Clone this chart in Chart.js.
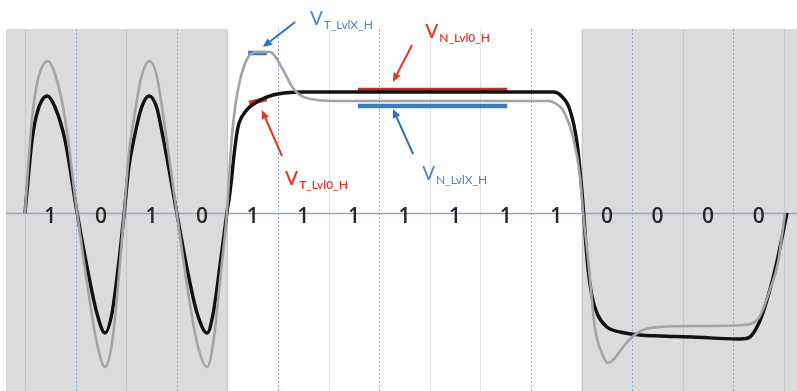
<!DOCTYPE html>
<html><head><meta charset="utf-8">
<script src="https://cdn.jsdelivr.net/npm/chart.js@4/dist/chart.umd.min.js"></script>
<style>html,body{margin:0;padding:0;background:#fff;overflow:hidden}</style>
</head><body>
<canvas id="c" width="797" height="391"></canvas>
<script>
// ---- data (x in unit intervals / bit times, y in normalised volts) ----
const bitLabels = ['1','0','1','0','1','1','1','1','1','1','1','0','0','0','0'];
const shadedRanges = [[-0.5, 4], [11, 15.5]];
const blackT = [0,0.06,0.14,0.25,0.44,0.6,0.79,1.03,1.25,1.42,1.58,1.72,1.84,1.96,2.05,2.17,2.3,2.45,2.6,2.73,3.0,3.22,3.4,3.6,3.72,3.86,3.99,4.05,4.15,4.21,4.35,4.58,4.9,5.5,7,9,10.45,10.6,10.77,10.91,11.01,11.11,11.2,11.32,11.5,11.76,12.15,12.55,13.2,14.07,14.29,14.53,14.72,14.88,15.06];
const blackV = [0,0.33,0.73,1.02,1.17,1.05,0.73,0,-0.6,-1.0,-1.2,-1.0,-0.55,0,0.45,0.78,1.05,1.17,1.06,0.75,0,-0.6,-1.0,-1.2,-1.0,-0.5,0,0.2,0.66,0.86,1.01,1.11,1.18,1.21,1.21,1.21,1.21,1.17,1.03,0.7,0.2,-0.47,-0.82,-1.02,-1.14,-1.19,-1.22,-1.23,-1.24,-1.26,-1.25,-1.07,-0.77,-0.44,0];
const greyT = [0,0.06,0.14,0.25,0.45,0.6,0.79,1.03,1.25,1.42,1.58,1.72,1.84,1.96,2.05,2.17,2.3,2.46,2.6,2.73,3.0,3.22,3.4,3.6,3.72,3.86,3.99,4.07,4.15,4.25,4.4,4.58,4.84,5.1,5.28,5.43,5.77,6.23,8,10.35,10.5,10.63,10.83,10.97,11.03,11.13,11.26,11.4,11.52,11.66,11.82,12.0,12.21,12.55,13.34,14.19,14.47,14.58,14.72,14.88,15.02];
const greyV = [0,0.45,0.95,1.32,1.52,1.38,0.95,0,-0.78,-1.3,-1.54,-1.3,-0.72,0,0.58,1.0,1.36,1.52,1.38,0.98,0,-0.78,-1.3,-1.54,-1.3,-0.65,0,0.65,1.05,1.33,1.55,1.61,1.61,1.43,1.26,1.18,1.13,1.12,1.12,1.12,1.09,1.03,0.76,0.36,0,-0.47,-1.14,-1.4,-1.5,-1.45,-1.34,-1.24,-1.17,-1.14,-1.13,-1.12,-1.07,-0.97,-0.77,-0.5,0];
const vTLvlXH_T = [4.41, 4.78], vTLvlXH_V = [1.60, 1.60];
const vTLvl0H_T = [4.43, 4.78], vTLvl0H_V = [1.10, 1.14];
const vNLvl0H_T = [6.58, 9.53], vNLvl0H_V = [1.23, 1.23];
const vNLvlXH_T = [6.58, 9.53], vNLvlXH_V = [1.07, 1.07];

const pts = (t, v) => t.map((x, i) => ({x, y: v[i]}));

// ---- annotation anchors (data units) ----
const arrows = [
  {from:[5.34,1.91], to:[4.70,1.66], color:'#2f6fb3'},
  {from:[7.65,1.68], to:[7.27,1.31], color:'#e2362a'},
  {from:[5.08,0.57], to:[4.68,1.03], color:'#e2362a'},
  {from:[7.67,0.59], to:[7.27,1.04], color:'#2f6fb3'}
];
const labels = [
  {at:[5.63,1.88], main:'V', sub:'T_LvlX_H', color:'#4f82c0', bold:false},
  {at:[7.91,1.75], main:'V', sub:'N_Lvl0_H', color:'#e2362a', bold:true},
  {at:[5.14,0.28], main:'V', sub:'T_Lvl0_H', color:'#e2362a', bold:true},
  {at:[7.85,0.33], main:'V', sub:'N_LvlX_H', color:'#4f82c0', bold:false}
];
const gridStyles = ['g','b','g','b','g','b','l','b','l','l','b','g','b','g','b','g'];

const bgPlugin = {
  id: 'bg',
  beforeDatasetsDraw(chart) {
    const {ctx, chartArea: a, scales: {x, y}} = chart;
    ctx.save();
    ctx.fillStyle = '#dbdbdb';
    shadedRanges.forEach(([s, e]) => {
      const x0 = Math.max(a.left, x.getPixelForValue(s));
      const x1 = Math.min(a.right, x.getPixelForValue(e));
      ctx.fillRect(x0, a.top, x1 - x0, a.bottom - a.top);
    });
    gridStyles.forEach((st, k) => {
      const px = Math.round(x.getPixelForValue(k)) + 0.5;
      ctx.beginPath();
      if (st === 'b') { ctx.strokeStyle = '#8fa8d0'; ctx.setLineDash([2, 2]); ctx.lineWidth = 1; }
      else if (st === 'g') { ctx.strokeStyle = '#c6c6c6'; ctx.setLineDash([]); ctx.lineWidth = 1; }
      else { ctx.strokeStyle = '#e2e2e2'; ctx.setLineDash([]); ctx.lineWidth = 1; }
      ctx.moveTo(px, a.top); ctx.lineTo(px, a.bottom); ctx.stroke();
    });
    ctx.setLineDash([]);
    const py = Math.round(y.getPixelForValue(0)) + 0.5;
    ctx.strokeStyle = '#8ea9c9'; ctx.lineWidth = 1.5;
    ctx.beginPath(); ctx.moveTo(a.left, py); ctx.lineTo(a.right, py); ctx.stroke();
    ctx.restore();
  },
  afterDatasetsDraw(chart) {
    const {ctx, scales: {x, y}} = chart;
    ctx.save();
    // bit labels
    ctx.fillStyle = '#262626';
    ctx.font = '600 21px "Open Sans", Lato, sans-serif';
    ctx.textAlign = 'center'; ctx.textBaseline = 'alphabetic';
    const by = y.getPixelForValue(0) + 10;
    bitLabels.forEach((b, k) => ctx.fillText(b, x.getPixelForValue(k + 0.5), by));
    // arrows
    arrows.forEach(ar => {
      const x0 = x.getPixelForValue(ar.from[0]), y0 = y.getPixelForValue(ar.from[1]);
      const x1 = x.getPixelForValue(ar.to[0]), y1 = y.getPixelForValue(ar.to[1]);
      const ang = Math.atan2(y1 - y0, x1 - x0);
      const hl = 9, hw = 4;
      const bx = x1 - hl * Math.cos(ang), byy = y1 - hl * Math.sin(ang);
      ctx.strokeStyle = ar.color; ctx.fillStyle = ar.color; ctx.lineWidth = 2;
      ctx.beginPath(); ctx.moveTo(x0, y0); ctx.lineTo(bx, byy); ctx.stroke();
      ctx.beginPath();
      ctx.moveTo(x1, y1);
      ctx.lineTo(bx + hw * Math.sin(ang), byy - hw * Math.cos(ang));
      ctx.lineTo(bx - hw * Math.sin(ang), byy + hw * Math.cos(ang));
      ctx.closePath(); ctx.fill();
    });
    // labels
    ctx.textAlign = 'left';
    labels.forEach(l => {
      const px = x.getPixelForValue(l.at[0]), py = y.getPixelForValue(l.at[1]);
      ctx.fillStyle = l.color;
      ctx.font = (l.bold ? '600 ' : '') + '19px Lato, "Open Sans", sans-serif';
      ctx.fillText(l.main, px, py);
      const w = ctx.measureText(l.main).width;
      ctx.font = (l.bold ? '600 ' : '') + '12px Lato, "Open Sans", sans-serif';
      ctx.fillText(l.sub, px + w + 1, py + 4);
    });
    ctx.restore();
  }
};

const seg = (t, v, color) => ({data: pts(t, v), borderColor: color, borderWidth: 4.5, pointRadius: 0, tension: 0, borderCapStyle: 'butt'});

new Chart(document.getElementById('c'), {
  type: 'line',
  data: {
    datasets: [
      {data: pts(greyT, greyV), borderColor: '#a3a3a3', borderWidth: 2.6, pointRadius: 0, cubicInterpolationMode: 'monotone'},
      {data: pts(blackT, blackV), borderColor: '#111111', borderWidth: 3.4, pointRadius: 0, cubicInterpolationMode: 'monotone'},
      seg(vTLvlXH_T, vTLvlXH_V, '#3579bd'),
      seg(vTLvl0H_T, vTLvl0H_V, '#d9362b'),
      seg(vNLvl0H_T, vNLvl0H_V, '#b8362c'),
      seg(vNLvlXH_T, vNLvlXH_V, '#3a7fc1')
    ]
  },
  options: {
    responsive: false, devicePixelRatio: 1, animation: false,
    layout: {padding: {left: 6, top: 29, right: 0, bottom: 0}},
    scales: {
      x: {type: 'linear', min: -0.3755, max: 15.257, display: false},
      y: {type: 'linear', min: -1.78, max: 1.84, display: false}
    },
    plugins: {legend: {display: false}, tooltip: {enabled: false}}
  },
  plugins: [bgPlugin]
});
</script>
</body></html>
